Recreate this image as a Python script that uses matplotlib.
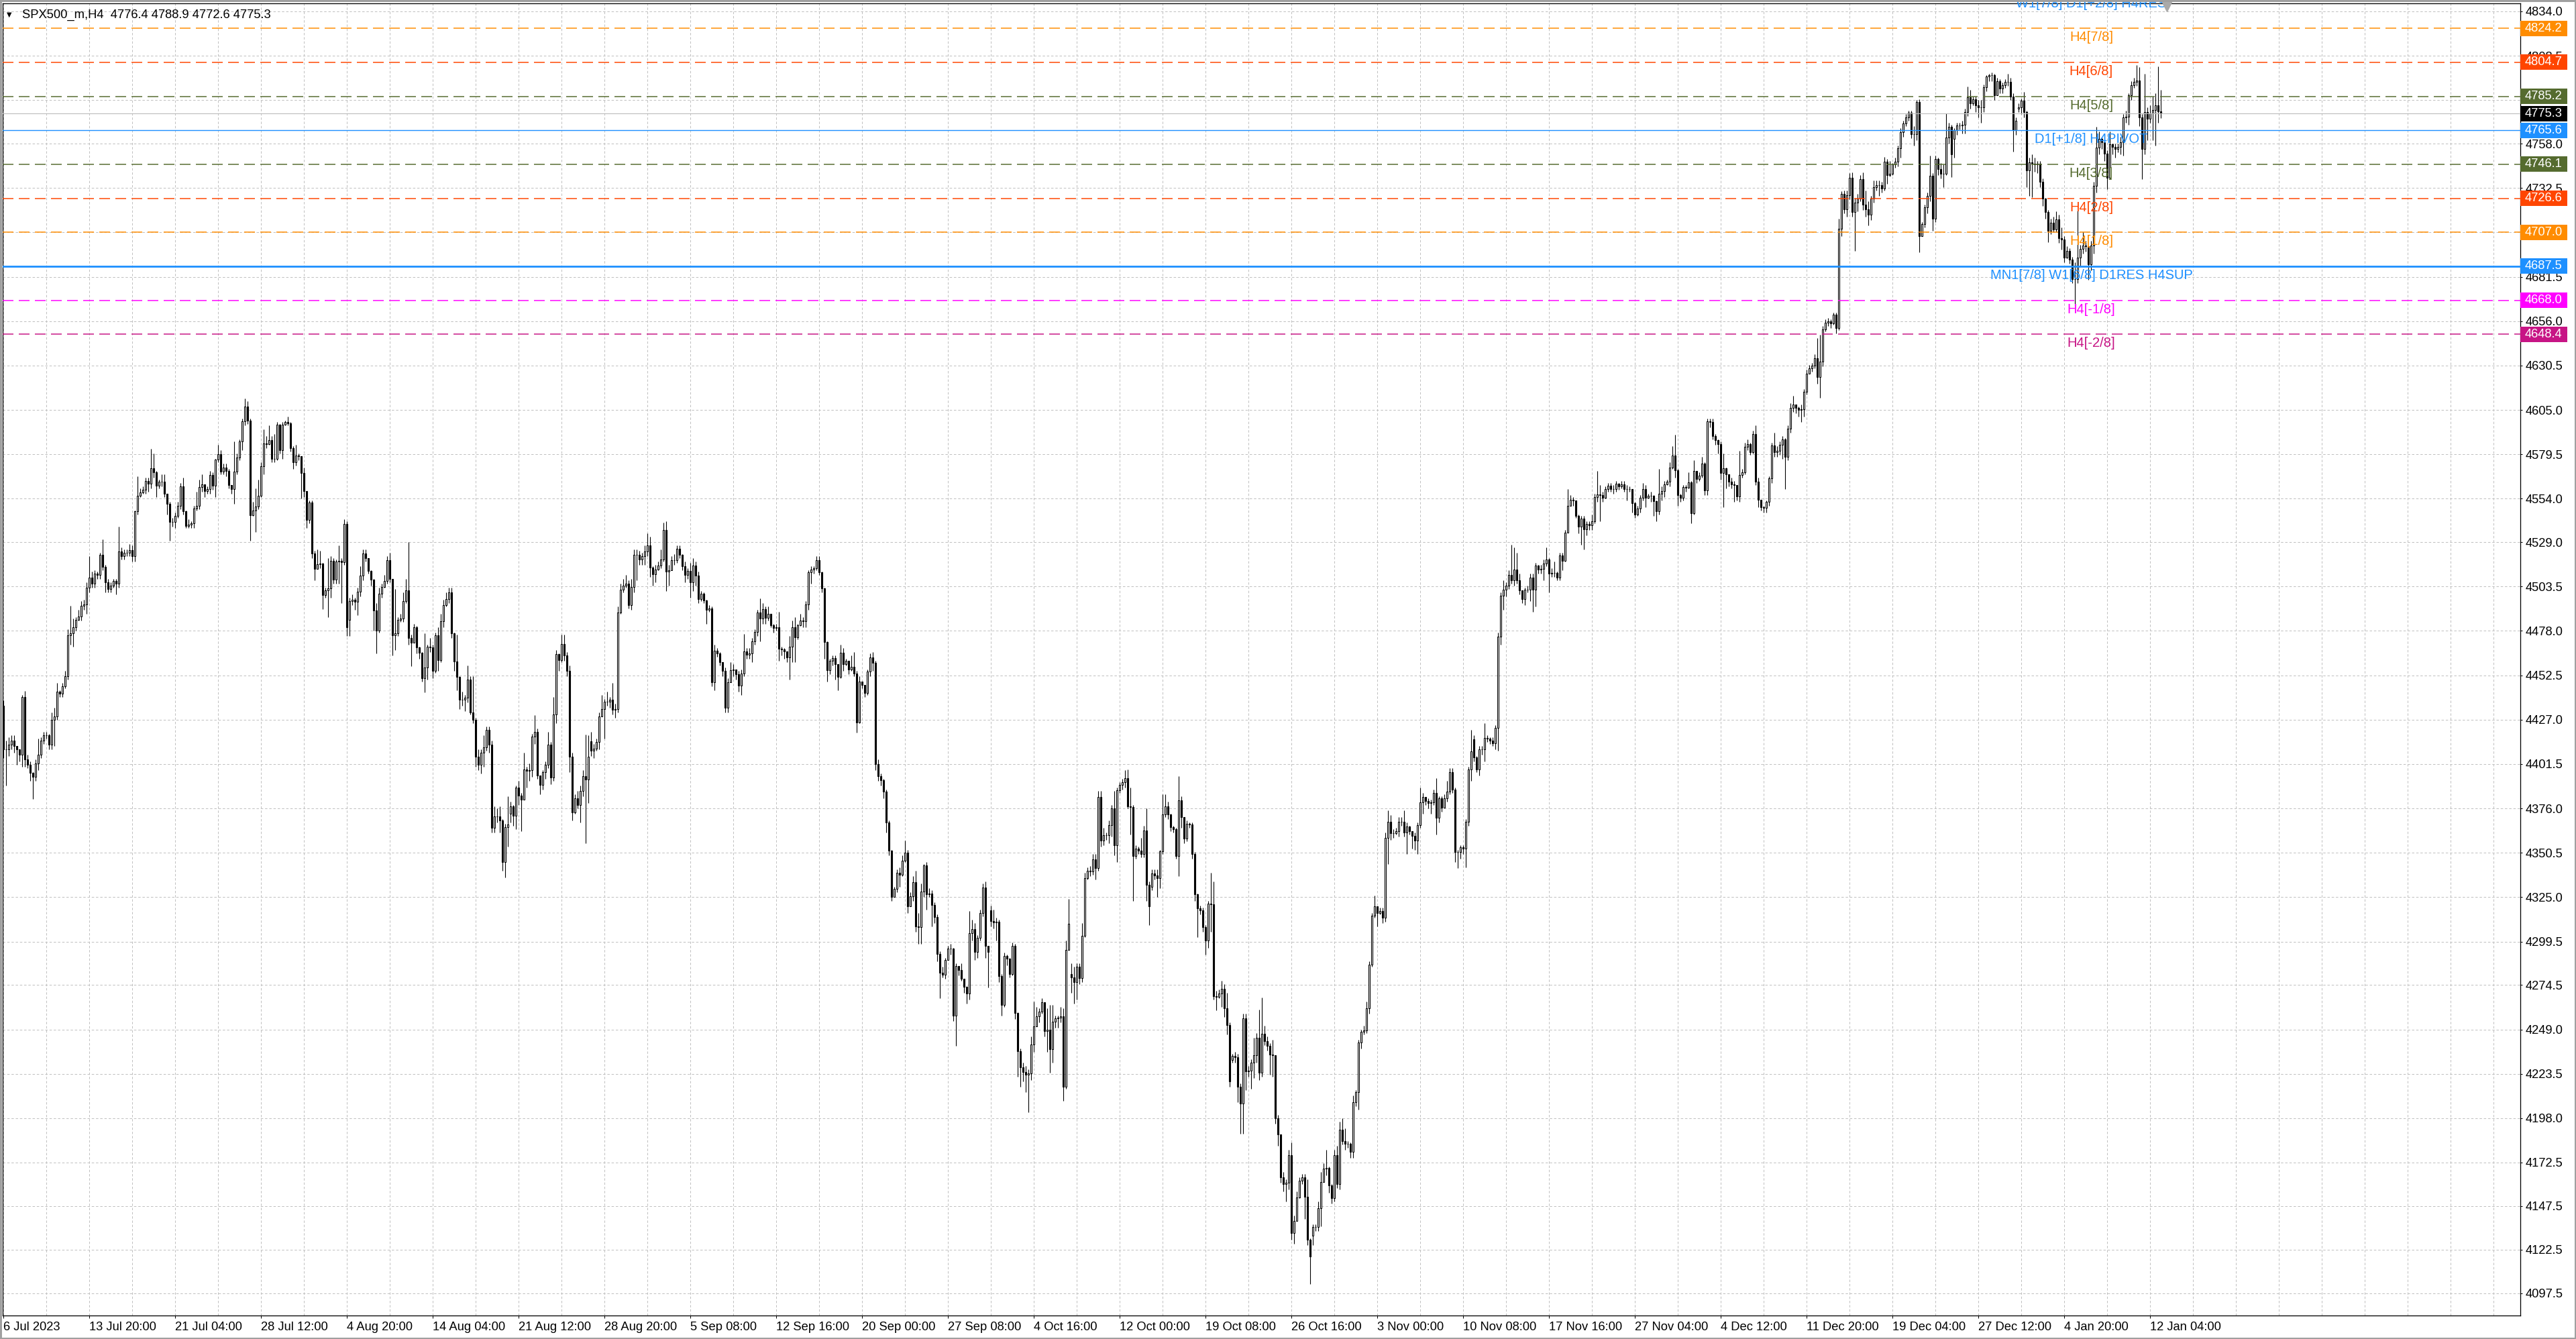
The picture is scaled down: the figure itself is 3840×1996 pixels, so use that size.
import numpy as np
import matplotlib
matplotlib.use("Agg")
import matplotlib.pyplot as plt
from matplotlib.patches import Rectangle
from matplotlib.transforms import blended_transform_factory

plt.rcParams['font.family'] = ['Liberation Sans', 'DejaVu Sans']
plt.rcParams['lines.scale_dashes'] = False

# ---------------- data ----------------
symbol_header = "SPX500_m,H4  4776.4 4788.9 4772.6 4775.3"
first_open = 4435.0

# (close, high, low) per H4 bar
seg_jul = [
(4410,4438,4405),(4410,4415,4389),(4412.5,4417,4406),(4415,4418,4410),(4411.7,4418,4408),
(4410,4412,4401),(4407,4410,4403),(4440,4441,4400),(4404,4443.6,4400),(4401,4407,4399),
(4396.6,4403,4392),(4394,4397,4381.5),(4402,4404,4392),(4407,4416,4398),(4415,4417,4405),
(4418,4420,4413),(4418,4420,4416),(4412.5,4419,4410),(4427,4431,4410),(4429,4434,4412),
(4443,4448,4427),(4442,4444,4440),(4446,4448,4440),(4452,4455,4445),(4475.6,4479,4450),
(4476.5,4492.5,4470),(4480,4485,4469),(4484.5,4486,4478),(4486.3,4490,4484),(4492.5,4495,4484),
(4493.4,4496,4490),(4503,4506,4488),(4508.5,4521,4500),(4505,4512,4503),(4511,4513,4503),
(4510.3,4512,4508),(4521.8,4523,4508),(4514.7,4530.7,4513),(4505.8,4516,4500),(4502,4508,4500),
(4504,4506,4500),(4506.7,4508,4503),(4505,4508,4499),(4523.6,4537.8,4503),(4521,4526,4519),
(4523,4525,4519),(4523,4525,4521),(4524.5,4528,4521),(4521,4527,4518),(4546.7,4547,4518),
(4555.6,4567,4545),(4557.7,4560,4555),(4559,4561,4557),(4564,4566,4557),(4562.7,4566,4558),
(4571.6,4582.6,4560),(4569,4580,4566),(4561.3,4570,4555),(4563.6,4565,4560),(4563.6,4568,4561),
(4556.8,4568,4555),(4551.2,4557,4545),(4540.5,4552,4529.8),(4540.5,4543,4538),(4544,4546,4537),
(4550,4552,4543),(4561,4563,4548),(4546.7,4566,4545),(4538.2,4547,4537),(4539,4542,4537),
(4540,4541,4537),(4548.5,4550,4537),(4550,4558,4547),(4560.6,4565,4548),(4562.2,4568,4558),
(4558.3,4562,4555),(4559.5,4561,4557),(4567.7,4570,4557),(4561.3,4569,4559),(4576.6,4577,4555),
(4579.6,4585,4575),(4569.5,4582,4568),(4572,4574,4568),(4570,4574,4567),(4561.8,4571,4560),
(4559.5,4562,4557),(4569.5,4587,4551),(4577.8,4580,4568),(4586.7,4588,4576),(4598.6,4600,4582),
(4606.8,4611.6,4596),(4599,4610,4597),(4544.6,4600,4530),(4547.2,4552,4544),(4549.4,4560,4535),
(4555.6,4565,4548),(4572.5,4575,4555),(4585.8,4594,4568),(4585.5,4590,4583),(4587.6,4596,4585),
(4576.9,4590,4575),(4577,4591,4575),(4596.5,4598,4576),(4581.9,4597,4580),(4596.5,4598,4577),
(4597.9,4599,4596),(4597.4,4601,4596),(4583.1,4598,4581),(4574.8,4584,4571),(4578.7,4585,4573),
(4578.3,4580,4576),(4568.9,4572,4554),(4558.3,4572,4555),(4541.9,4558,4537),(4551.7,4553,4540),
(4522.7,4553,4520),(4513.8,4524,4507),(4516.2,4525,4514),(4516.9,4524,4514),(4498.7,4517,4490.7),
(4501.4,4503,4497),(4502.3,4520,4486),(4518.3,4521,4497),(4507.6,4520,4505),(4517.9,4519,4505),
(4518.4,4527,4505),(4517.4,4520,4494),(4539.6,4542,4516),(4480.1,4541,4475),(4495.2,4497,4475),
(4496.1,4499,4493),(4494.8,4497,4490),(4500.5,4503,4487),(4509.7,4515,4498),(4522.7,4525,4507),
(4520,4525,4518),(4512.6,4520,4511),(4507.3,4513,4504),(4489.9,4508,4478),
]
seg_aug = [
(4478.3,4494,4465),(4499.5,4503,4477),(4503.4,4505,4497),(4506.6,4510,4503),(4518.7,4521,4505),
(4507.9,4523,4506),(4475.6,4508,4464),(4476.5,4502,4467),(4484.5,4486,4475),(4485,4488,4483),
(4495.1,4500,4483),(4501.3,4508,4494),(4473.8,4529.2,4470),(4471.2,4476,4457.9),(4480,4482,4472),
(4468.5,4481,4465),(4465.5,4469,4462),(4450.8,4466,4449),(4457,4476.5,4442.8),(4468.9,4470,4450),
(4468.5,4474,4466),(4455.2,4470,4451),(4475.6,4477,4454),(4461.4,4480,4455),(4483.6,4488,4460),
(4493,4496,4480),(4496.4,4500,4492),(4500.1,4503,4494),(4476.5,4503,4474),(4460.5,4477,4455),
(4451.7,4476,4444),(4438.4,4452,4433),(4438.4,4443,4435),(4439.8,4441,4432),(4450,4458,4437),
(4431.3,4452,4430),(4426.8,4452,4425),(4405.6,4428,4400),(4401.2,4410,4398),(4407.9,4410,4396),
(4411.2,4418,4400),(4421.2,4423,4409),(4412.7,4423,4408),(4364.8,4415,4362),(4371.4,4377,4362),
(4371.4,4376,4368),(4368.9,4377,4362),(4345.3,4370,4340),(4365.3,4367,4336.4),(4366.9,4383,4354),
(4377.2,4380,4368),(4371.9,4378,4366),(4387.8,4389,4364),(4383.4,4392,4378),(4381.1,4385,4363),
(4398.5,4408,4381),(4397.6,4400,4388),(4398.1,4402,4392),(4417.1,4419,4394),(4420.1,4429.5,4413),
(4394.9,4422,4393),(4389.6,4395,4384),(4396.7,4398,4387),(4401.2,4403,4393),(4412.7,4420,4399),
(4393.7,4414,4390),(4430,4440,4392),(4464.6,4467,4425),(4461.1,4465,4455),(4470.3,4476,4460),
(4464.1,4476,4461),(4455.2,4466,4452),(4405.6,4458,4397),(4373.7,4408,4369),(4382,4384,4373),
(4378.1,4386,4376),(4386,4389,4368),(4394.4,4398,4383),(4392.6,4418.5,4355.9),(4405.6,4418,4379),
(4409.1,4420,4406),(4410.4,4413,4405),(4414.1,4416,4409),(4429,4431,4410),(4433.1,4441,4430),
(4437.5,4439,4416),(4437.5,4443,4435),(4438.4,4440,4434),(4432.7,4448,4430),(4433.1,4436,4428),
(4488.6,4492,4431),(4501.7,4505,4488),(4504,4508,4500),(4505.2,4510.2,4503),(4493,4507,4491),
(4503.4,4508,4490),(4521.7,4525,4500),(4521.7,4525,4507),(4519.1,4524,4516),(4520.8,4523,4516),
(4523.5,4527,4516),(4527,4534.1,4521),(4514.3,4532,4509),(4510.7,4515,4504),(4513.4,4516,4506),
(4515.5,4518,4513),(4519,4525,4514),(4535.9,4540.3,4518),(4512,4541,4501),(4512.9,4516,4504),
(4518.5,4521,4516),(4518.5,4522,4516),(4525.3,4527,4517),(4521.7,4527,4520),(4515.2,4522,4513),
(4510.2,4518,4506),(4512.5,4514,4508),(4506.1,4517,4497),(4515.5,4520,4501),(4509.7,4518,4504),
(4496.4,4512,4494),(4499.2,4501,4495),(4495.6,4500,4494),(4490.3,4496,4482),(4491,4493,4489),
(4448.5,4492,4446),(4466.8,4470,4444),(4465,4468,4463),(4460.2,4466,4458),(4455.2,4460,4452),
(4433.9,4457,4431),(4448.5,4451,4431),(4455.6,4460,4449),(4456,4459,4452),(4453,4456,4450),
]
seg_sep = [
(4446.6,4455,4443),(4453.7,4456,4441.2),(4466.1,4476.3,4452),(4464.4,4468,4462),(4465,4468,4462),
(4472,4474,4460),(4477.4,4479,4470),(4488.5,4490,4475),(4485,4496.5,4472),(4490.4,4494,4482),
(4485.6,4492,4482),(4487.8,4492,4484),(4481.3,4488,4480),(4479.8,4482,4477),(4480.2,4482,4478),
(4467.6,4489,4461),(4467.2,4469,4464),(4466.1,4468,4462),(4462.9,4465,4460),(4468.9,4475,4450),
(4480.2,4484,4460),(4474.4,4486,4460),(4481.3,4482,4473),(4484.1,4488,4481),(4483.5,4486,4480),
(4493.2,4495,4480),(4511.7,4513,4490),(4513.2,4515,4505),(4513.9,4515,4511),(4518.8,4521,4513),
(4511.7,4521,4510),(4502.4,4512,4500),(4471.5,4503,4462),(4455.3,4472,4449),(4460.8,4462,4453),
(4462.2,4464,4458),(4459,4464,4450),(4451.6,4459,4444),(4465.5,4470,4451),(4459,4468,4455),
(4460.7,4462,4458),(4455.7,4461,4453),(4457.4,4464,4455),(4453.5,4466,4452),(4425.5,4455,4419.4),
(4448.8,4452,4425),(4447,4449,4445),(4442.2,4447,4440),(4454.6,4456,4441),(4462.9,4465,4452),
(4459.6,4466,4455),(4401.5,4461,4398),(4394.5,4404,4392),(4392.3,4396,4389),(4385.8,4393,4382),
(4368,4387,4362),(4351.8,4369,4349),(4325,4352,4323),(4329.8,4331,4327),(4339.2,4341,4328),
(4337.7,4342,4331),(4346.1,4349,4337),(4350.5,4357.6,4345),(4319.6,4352,4316),(4325.5,4328,4323),
(4333.7,4337,4323),(4308.1,4340,4305),(4307.7,4316,4298),(4328.3,4333,4298),(4343.1,4344,4325),
(4326.6,4345,4318),(4327.2,4330,4325),(4320.7,4329,4308),(4313.6,4322,4310),(4292.5,4315,4288),
(4281.7,4294,4267),(4280.6,4285,4279),(4288.8,4290,4278),(4295.3,4297,4290),(4295.3,4298,4292),
(4257.1,4296,4254),(4285.4,4287,4239.6),(4283.2,4285,4280),(4278,4287,4277),(4273.6,4277,4270),
(4269.7,4274,4264),(4304.5,4317,4266),(4306.6,4312,4300),(4293.6,4310,4289),(4301.6,4303,4290),
(4315.7,4318,4300),(4330.5,4333,4314),(4296.9,4334,4290),(4293.6,4296,4273),(4311.4,4320,4308),
(4310.5,4318,4307),(4311,4313,4300),(4279.5,4312,4276),(4263.2,4281,4257),(4291.4,4293,4262),
(4289.7,4292,4286),(4281,4290,4279),(4296.9,4299,4280),(4258.4,4298,4255),(4236.5,4259,4222),
(4227.4,4238,4216),(4224.6,4230,4219),(4223,4228,4213),(4223.7,4226,4201.4),(4240.4,4245,4220),
(4250.9,4265,4236),(4256.7,4262,4251),(4259.3,4261,4253),(4264.7,4267,4258),(4248.1,4264,4245),
(4248.7,4261,4236),(4237.8,4263,4224),(4253.5,4263,4230),(4255.2,4257,4250),(4255.6,4257,4250),
(4256.7,4262,4253),(4215.9,4261,4208),(4294.7,4300,4215),(4309.9,4324,4295),(4278.8,4287,4270),
(4276.2,4285,4264),(4284.9,4287,4266),(4278.4,4287,4275),(4302.7,4310,4276),(4335.9,4339,4302),
(4340.2,4342,4335),(4339.6,4343,4337),(4346.8,4350,4338),(4341.8,4350,4335),(4382.6,4386,4340),
]
seg_oct = [
(4357.5,4386,4354),(4360.6,4365,4355),(4360.6,4362,4358),(4366.2,4369,4356),(4376.1,4378,4360),
(4354.8,4386,4349),(4386.4,4388,4345),(4389.5,4391,4385),(4391,4393,4387),(4393.3,4398,4388),
(4377.1,4398.2,4376),(4376.7,4388,4361),(4348.6,4378,4323),(4352.8,4355,4347),(4351.9,4354,4350),
(4349.7,4359,4348),(4363.3,4366,4348),(4332.1,4376,4323),(4319.7,4334,4309),(4338.5,4341,4329),
(4337.3,4341,4335),(4335.8,4341,4325),(4351.3,4352,4330),(4372.6,4384,4350),(4377.1,4384,4371),
(4372.4,4380,4370),(4365.2,4373,4363),(4364.1,4366,4362),(4348.6,4365,4347),(4380.7,4394.7,4337),
(4371,4383,4365),(4358.6,4370,4356),(4367.2,4369,4357),(4366.8,4368,4365),(4349.9,4368,4347),
(4326.5,4351,4323),(4318.7,4327,4302),(4317.6,4320,4315),(4307.9,4319,4305),(4300.1,4309,4292),
(4321.4,4323,4296),(4320.8,4338.9,4305),(4268.1,4334,4266),(4267.6,4271,4260),(4269.7,4272,4267),
(4272.4,4277,4262),(4261,4275,4256),(4251.7,4270,4246),(4219.1,4253,4216),(4233.6,4235,4230),
(4233.1,4236,4230),(4216,4235,4207),(4206.3,4218,4189),(4255.3,4258,4189),(4224.9,4258,4214),
(4225.3,4228,4222),(4229.8,4232,4215),(4234,4244,4221),(4244.3,4247,4230),(4224.3,4260.4,4220),
(4246.6,4267.2,4222),(4242.4,4251,4240),(4239.4,4245,4237),(4234.6,4241,4223),(4234,4243,4222),
(4197.8,4234,4195),(4188.7,4200,4182),(4163.9,4183,4161),(4160.2,4167,4156),(4160.8,4163,4150),
(4176.7,4180,4157),(4131.9,4184,4128),(4139.1,4142,4126),(4152.4,4156,4149),(4161.9,4164,4152),
(4163.9,4166,4160),(4153,4166,4140),(4128.2,4163,4125),(4118.5,4129,4102.8),(4135.4,4137,4125),
(4135.4,4137,4133),(4146.4,4150,4133),(4161.3,4167,4136),(4169.1,4172,4162),(4169.5,4180,4165),
(4159.2,4170,4155),(4151.9,4160,4149),(4176.7,4180,4150),(4160.2,4182,4158),(4191.2,4196,4157),
(4185,4198,4183),(4183.4,4192,4180),(4183.4,4185,4181),(4178.8,4184,4175),(4207.3,4211,4175),
(4212.9,4214,4205),(4241.4,4243,4203),(4247.6,4249,4238),(4248.6,4251,4246),(4261,4265,4247),
(4286.2,4288,4258),(4314.5,4316,4285),(4319.9,4326,4313),(4315.8,4318,4308),(4317.2,4319,4315),
(4313.1,4319,4310),(4359,4362,4311),(4368.5,4375,4344),(4361.6,4372,4358),(4361.6,4364,4359),
(4363.1,4365,4361),(4368.5,4371,4360),(4368.5,4371,4366),(4362.3,4375,4360),(4365.8,4368,4350),
(4363.1,4366,4361),(4360.2,4363,4353),(4357.5,4362,4352),(4366.2,4368,4350),(4379.6,4388,4365),
(4382.7,4385,4373),(4380.2,4382,4378),(4379.2,4382,4376),(4379.6,4381,4373),(4384.8,4387,4378),
(4370.5,4393.3,4361),(4381.7,4383,4368),(4376.5,4383,4374),(4381.7,4384,4378),(4385.8,4392,4380),
(4396.8,4399,4384),(4387,4399,4385),(4351,4388,4345),(4351,4352,4341.7),(4353.7,4355,4347),
]
seg_nov = [
(4353,4355,4350),(4368.5,4370,4342),(4398.5,4400,4366),(4408.8,4421.2,4392),(4405.3,4418,4403),
(4398.5,4406,4397),(4409.8,4412,4395),(4410,4412,4407),(4416.4,4425,4403),(4416,4418,4414),
(4415,4417,4413),(4413.6,4417,4412),(4422.2,4424,4410),(4474.9,4477,4409),(4498.3,4500,4470),
(4501.8,4507,4490),(4503.9,4506,4498),(4510,4513,4502),(4507,4527.6,4505),(4513.1,4526,4504),
(4507,4523,4505),(4501.2,4511,4499),(4496.2,4500,4494),(4501.8,4503,4493),(4501.8,4504,4500),
(4508.6,4511,4495),(4501.8,4511,4489),(4515.6,4517,4492),(4513.1,4516,4511),(4513.8,4516,4511),
(4516.9,4519,4507),(4518.9,4526,4515),(4511.1,4520,4500),(4511.5,4514,4509),(4511.5,4518,4509),
(4508.6,4512,4507),(4521.4,4523,4507),(4518.3,4523,4513),(4534.4,4536,4518),(4549.9,4559.6,4538),
(4553.4,4556,4550),(4552.8,4555,4550),(4544.1,4553,4543),(4537.9,4545,4534),(4542.5,4544,4527.6),
(4536.3,4544,4525),(4539.4,4541,4533),(4538.6,4541,4536),(4541,4545,4536),(4554.9,4557,4540),
(4556.5,4569.9,4552),(4556.1,4562,4541),(4554.5,4558,4552),(4559.6,4561,4554),(4561.6,4563,4558),
(4559.6,4563,4558),(4559.6,4562,4557),(4562.7,4564,4558),(4561.2,4563,4559),(4562.1,4564,4560),
(4559.6,4564,4558),(4559.6,4562,4553),(4559.6,4561,4558),(4551.4,4558,4546),(4544.8,4552,4543),
(4548.3,4550,4544),(4554.5,4556,4546),(4559.6,4563,4553),(4554.5,4562,4549),(4555.7,4557,4554),
(4555.7,4558,4552),(4552.4,4556,4544),(4546.8,4553,4541),(4557,4571,4545),(4558.2,4561,4553),
(4562.3,4564,4555),(4563.6,4565,4562),(4572,4575,4561),(4578.6,4584,4571),(4570.4,4590.6,4566),
(4556.1,4571,4550),(4554.5,4557,4552),(4560.7,4562,4553),(4560.2,4562,4558),(4563.3,4569,4560),
(4545.8,4564,4540),(4570,4576,4545),(4565.4,4567,4563),(4567.3,4569,4564),(4574.1,4578,4566),
(4558.6,4575,4556),(4598.3,4600,4556),(4597.9,4600,4595),(4590,4600,4588),(4587.5,4591,4585),
(4585.5,4588,4580),(4568.9,4587,4565),(4571.3,4580,4549.3),(4567.9,4572,4560),(4563.8,4567,4561),
(4562.3,4566,4560),(4561.7,4564,4552),(4555.1,4562,4553),(4567.5,4581.3,4552),(4569,4571,4566),
(4583.8,4586,4568),(4585.5,4588,4582),(4580.9,4586,4579),(4591.2,4593,4580),(4563.8,4596,4562),
(4553.4,4566,4549),(4549.3,4551,4547),(4548.7,4550,4546),(4552,4553,4546),(4565.8,4567,4550),
(4584.4,4586,4563),(4580.9,4592,4578),(4581.3,4584,4578),(4584.8,4587,4579),(4587.9,4590,4577),
(4578.2,4589,4559.6),(4594.1,4596,4576),(4606.1,4609,4592),(4608.2,4613,4604),(4606.1,4608,4603),
(4605.1,4607,4601),(4605.5,4608,4598),(4615.4,4617,4601),(4625.7,4628,4614),(4628.8,4631,4626),
(4630.5,4632,4627),(4634.6,4637,4629),(4623.7,4646.4,4620),(4632.6,4648,4612),(4651.4,4653,4630),
]
seg_dec = [
(4655.2,4657,4650),(4655.9,4658,4653),(4654.6,4657,4652),(4659.7,4661,4654),(4652,4661,4649),
(4709.2,4715,4651),(4729.2,4730.5,4705),(4720.2,4731,4718),(4728.5,4731,4716),(4738.2,4741,4726),
(4718.9,4741.4,4716),(4724,4727,4696.4),(4726.6,4729,4719),(4737.5,4740,4725),(4722.8,4741.4,4720),
(4720.2,4731,4716),(4717,4725,4711),(4726.6,4728,4714),(4733,4737,4724),(4734.3,4737,4731),
(4734.3,4737,4728),(4732.4,4736,4730),(4747.8,4750.4,4731),(4740.1,4749,4735),(4740.8,4748,4739),
(4745.9,4747,4740),(4747.8,4750,4744),(4755.2,4757,4745),(4764.6,4767,4750),(4769.7,4771,4762),
(4772.9,4775,4768),(4775.8,4777,4771),(4763.3,4777,4761),(4763.3,4768,4757),(4781.9,4783,4760),
(4704.7,4783.5,4695.7),(4711.8,4713,4705),(4721.5,4723,4710),(4727.9,4730,4718),(4739.5,4751,4725),
(4715,4741,4708),(4749.1,4751,4713),(4743.3,4750,4740),(4740.8,4747,4738),(4740.8,4746,4733),
(4761.4,4775.5,4740),(4767.8,4770,4758),(4751.7,4769,4738.8),(4765.8,4767,4750),(4768.4,4770,4763),
(4768.4,4770,4766),(4768.8,4771,4764),(4776.1,4778,4764),(4784.5,4790.9,4774),(4781.3,4789,4778),
(4783.5,4785,4780),(4780,4785,4776),(4778.7,4783,4773),(4778.7,4783,4770),(4790.3,4792,4776),
(4796.7,4797.4,4788),(4797.4,4798,4794),(4797.4,4799,4794),(4785.8,4798,4783),(4793.8,4796,4789),
(4789.6,4795,4787),(4791.6,4793,4787),(4793.5,4795,4790),(4793.5,4798,4791),(4785.1,4796,4783),
(4765.8,4787,4753.6),(4771,4773,4763),(4778.7,4781,4776),(4782.6,4784,4775),(4776.1,4787.7,4773),
(4742.7,4777,4733),(4747.2,4750,4728),(4746.5,4752,4727.3),(4745.9,4750,4742),(4746.5,4748,4741),
(4736,4748,4733),(4726.6,4738,4722),(4718.9,4727,4715),(4708,4720,4701.5),(4712.5,4715,4706),
(4708.6,4716,4707),(4714.4,4719,4707),(4703.5,4717,4701),(4702.8,4710,4697),(4692.5,4705,4690),
(4696.4,4699,4692),(4691.2,4698,4689),(4680.3,4693,4678),(4680.3,4690,4664.9),(4692.5,4719.5,4678),
(4697.7,4700,4688),(4699.6,4707.3,4695),(4698.9,4702,4696),(4688.7,4697,4679.6),(4699.6,4702,4685),
(4733.7,4736,4695),(4755.6,4767.8,4730),(4760.7,4765,4752),(4758.8,4762,4755),(4752.3,4763,4748),
(4738.2,4754,4731.8),(4757.5,4765,4738),(4756.2,4758,4752),(4754.9,4758,4750),(4756.2,4758,4753),
(4758.8,4762,4752),(4772.9,4775,4751),(4773.6,4777,4770),(4785.8,4787,4769),(4791.6,4794,4783),
(4793.5,4796,4790),(4794.2,4803.2,4791),(4772.9,4801.9,4768),(4754.9,4775,4737.5),(4776.1,4798,4752),
(4772.3,4779,4760),(4775.5,4780,4770),(4777.4,4785,4760),(4780,4787,4757),(4776.4,4802.5,4770),
(4775.3,4788.9,4772.6),
]

# opens that differ from the previous close (weekend gaps)
gap_opens = {129: 4484.5, 189: 4372.8, 219: 4414.4, 368: 4317.5, 398: 4281.0,
             428: 4331.0, 458: 4231.5, 488: 4130.3, 548: 4415.6, 727: 4760.7, 751: 4778.0}

xtick_labels = ["6 Jul 2023", "13 Jul 20:00", "21 Jul 04:00", "28 Jul 12:00", "4 Aug 20:00",
                "14 Aug 04:00", "21 Aug 12:00", "28 Aug 20:00", "5 Sep 08:00", "12 Sep 16:00",
                "20 Sep 00:00", "27 Sep 08:00", "4 Oct 16:00", "12 Oct 00:00", "19 Oct 08:00",
                "26 Oct 16:00", "3 Nov 00:00", "10 Nov 08:00", "17 Nov 16:00", "27 Nov 04:00",
                "4 Dec 12:00", "11 Dec 20:00", "19 Dec 04:00", "27 Dec 12:00", "4 Jan 20:00",
                "12 Jan 04:00"]
xtick_step = 32
grid_step = 16

ytick_values = [4834.0, 4808.5, 4783.0, 4758.0, 4732.5, 4707.0, 4681.5, 4656.0, 4630.5, 4605.0,
                4579.5, 4554.0, 4529.0, 4503.5, 4478.0, 4452.5, 4427.0, 4401.5, 4376.0, 4350.5,
                4325.0, 4299.5, 4274.5, 4249.0, 4223.5, 4198.0, 4172.5, 4147.5, 4122.5, 4097.5]

level_names = ["W1[7/8] D1[+2/8] H4RES", "H4[7/8]", "H4[6/8]", "H4[5/8]", "D1[+1/8] H4PIVOT",
               "H4[3/8]", "H4[2/8]", "H4[1/8]", "MN1[7/8] W1[6/8] D1RES H4SUP", "H4[-1/8]", "H4[-2/8]"]
level_prices = [4843.7, 4824.2, 4804.7, 4785.2, 4765.6, 4746.1, 4726.6, 4707.0, 4687.5, 4668.0, 4648.4]
level_colors = ["#1E90FF", "#FF8C00", "#FF4500", "#556B2F", "#1E90FF", "#556B2F", "#FF4500",
                "#FF8C00", "#1E90FF", "#FF00FF", "#C71585"]
level_styles = ["solid", "dash", "dash", "dash", "solid", "dash", "dash", "dash", "thick", "dash", "dash"]
current_price = 4775.3
label_bar = 778

# ---------------- layout ----------------
W, H, DPI = 3840, 1996, 100
PX = 72.0 / DPI
AX_L, AX_R, AX_T, AX_B = 4, 3757, 4.5, 1961
X_MIN, X_MAX = -0.35, 937.9
Y_MIN, Y_MAX = 4084.6, 4838.8

fig = plt.figure(figsize=(W / DPI, H / DPI), dpi=DPI, facecolor='white')
ax = fig.add_axes([AX_L / W, 1 - AX_B / H, (AX_R - AX_L) / W, (AX_B - AX_T) / H])
ax.set_facecolor('white')
ax.set_xlim(X_MIN, X_MAX)
ax.set_ylim(Y_MIN, Y_MAX)

bars = [b for seg in (seg_jul, seg_aug, seg_sep, seg_oct, seg_nov, seg_dec) for b in seg]
closes = np.array([b[0] for b in bars], dtype=float)
highs = np.array([b[1] for b in bars], dtype=float)
lows = np.array([b[2] for b in bars], dtype=float)
n = len(closes)
x = np.arange(n)
opens = np.concatenate([[first_open], closes[:-1]])
for k, v in gap_opens.items():
    if k < n:
        opens[k] = v
highs = np.maximum(highs, np.maximum(opens, closes))
lows = np.minimum(lows, np.minimum(opens, closes))

# grid
grid_kw = dict(color='#C0C0C0', lw=1 * PX, ls=(0, (3.5 * PX, 2.8 * PX)), zorder=1)
for gx in np.arange(0, X_MAX, grid_step):
    ax.axvline(gx, **grid_kw)
for gy in ytick_values:
    ax.axhline(gy, **grid_kw)

# candles
ax.vlines(x, lows, highs, colors='black', lw=1.1 * PX, zorder=3)
up = closes >= opens
body_lo = np.minimum(opens, closes)
body_h = np.abs(closes - opens)
ax.bar(x[up], body_h[up], bottom=body_lo[up], width=0.5, facecolor='white',
       edgecolor='black', lw=1.1 * PX, zorder=4)
ax.bar(x[~up], body_h[~up], bottom=body_lo[~up], width=0.5, facecolor='black',
       edgecolor='black', lw=1.1 * PX, zorder=4)

# levels
trans_y = ax.get_yaxis_transform()
px_per_unit = (AX_B - AX_T) / (Y_MAX - Y_MIN)
box_w = 70.0 / (AX_R - AX_L)
box_h = 23.0 / px_per_unit
text_dx = 7.0 / (AX_R - AX_L)
box_prices = []

def price_box(price, color):
    box_prices.append(price)
    ax.add_patch(Rectangle((1.0, price - box_h / 2), box_w, box_h, transform=trans_y,
                           facecolor=color, edgecolor='none', clip_on=False, zorder=8))
    ax.text(1.0 + text_dx, price, f"{price:.1f}", transform=trans_y, color='white',
            fontsize=13.2, va='center', ha='left', zorder=9, clip_on=False)

for name, price, col, style in zip(level_names, level_prices, level_colors, level_styles):
    if style == 'dash':
        ax.axhline(price, color=col, lw=1.5 * PX, ls=(0, (16 * PX, 8 * PX)), zorder=5)
    elif style == 'solid':
        ax.axhline(price, color=col, lw=1.4 * PX, zorder=5)
    else:
        ax.axhline(price, color=col, lw=2.8 * PX, zorder=5)
    ax.annotate(name, xy=(label_bar, price), xytext=(0, -4 * PX), textcoords='offset points',
                ha='center', va='top', color=col, fontsize=14.5, zorder=7, annotation_clip=False)
    if Y_MIN < price < Y_MAX:
        price_box(price, col)

ax.axhline(current_price, color='#C0C0C0', lw=1.2 * PX, zorder=5)
price_box(current_price, 'black')

# axes ticks (labels fully covered by a price box are left blank, as on the screen)
ax.yaxis.tick_right()
ax.set_yticks(ytick_values)
ax.set_yticklabels(["" if min(abs(v - p) for p in box_prices) < 3 else f"{v:.1f}"
                    for v in ytick_values])
ax.tick_params(axis='y', direction='out', length=3 * PX, width=1 * PX, pad=5 * PX,
               labelsize=13.2, colors='black')
ax.set_xticks(np.arange(len(xtick_labels)) * xtick_step)
ax.set_xticklabels(xtick_labels)
for lbl in ax.get_xticklabels():
    lbl.set_horizontalalignment('left')
ax.tick_params(axis='x', direction='out', length=4 * PX, width=1 * PX, pad=5 * PX,
               labelsize=13.2, colors='black')
for s in ax.spines.values():
    s.set_color('black')
    s.set_linewidth(1.3 * PX)

# chart-shift marker
ax.plot([n + 1.1], [1 - 5.0 / (AX_B - AX_T)], marker='v', ms=14 * PX, color='#A9A9A9',
        transform=blended_transform_factory(ax.transData, ax.transAxes), clip_on=False, zorder=9)

# header
fig.text(14 / W, 1 - 22 / H, "\u25BC", fontsize=7, family='DejaVu Sans', va='center',
         ha='center', color='black')
fig.text(33 / W, 1 - 22 / H, symbol_header, fontsize=13.2, va='center', ha='left', color='black')

# window frame
fig.add_artist(Rectangle((0, 0), 1, 1, transform=fig.transFigure, fill=False,
                         edgecolor='#A0A0A0', lw=5 * PX))

fig.savefig('out.png', dpi=DPI, facecolor='white')
